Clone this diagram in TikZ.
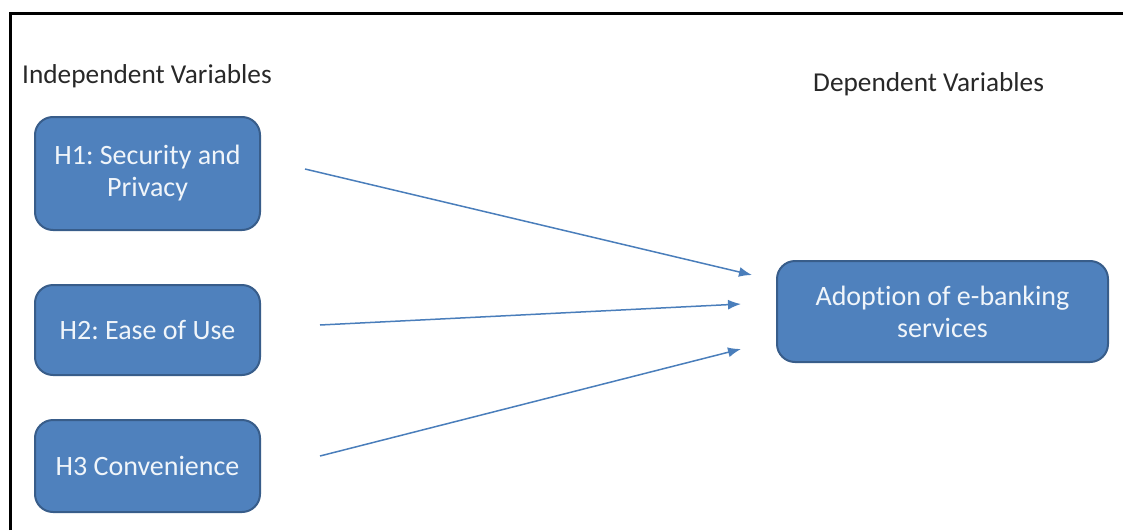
\documentclass[tikz,border=0pt]{standalone}
\usepackage{fontspec}
\setmainfont[RawFeature=-liga]{Carlito}
\usepackage{tikz}
\usetikzlibrary{positioning}
\usetikzlibrary{calc,arrows.meta}

\definecolor{boxblue}{RGB}{79,129,189}
\definecolor{boxedge}{RGB}{56,93,138}
\definecolor{arrowblue}{RGB}{74,126,187}
\definecolor{boxtext}{RGB}{240,245,250}
\definecolor{labeltext}{RGB}{40,40,40}

\frenchspacing
\begin{document}
\begin{tikzpicture}
	[   x=1pt,y=-1pt,
	    hbox/.style={draw=boxedge,line width=2pt,fill=boxblue,rounded corners=18pt,
	        text=boxtext,align=center,font=\fontsize{28}{32}\selectfont,
	        minimum width=#1,inner sep=0pt},
	    vlabel/.style={text=labeltext,font=\fontsize{27.3}{30}\selectfont,inner sep=0pt,anchor=base west},
	]
	\tikzset{normal arrow/.style={draw=arrowblue,line width=1.5pt,-{Latex[length=13pt,width=10pt]}}}
	\useasboundingbox (0,0) rectangle (1123,530);
	\draw[line width=3pt,black] (10,530) -- (10,13) -- (1123,13);
	
	\node[vlabel] (indep) at (22,83) {Independent Variables};
	\node[vlabel] (dep) at (813,91) {Dependent Variables};
	
	\node[hbox=225pt,minimum height=113pt] (h-1) at (147.5,173.5) {H1: Security and\\Privacy};
	\node[hbox=225pt,minimum height=90pt] (h-2) at (147.5,330) {H2: Ease of Use};
	\node[hbox=225pt,minimum height=92pt] (h-3) at (147.5,466) {H3 Convenience};
	
	\node[hbox=331pt,minimum height=101pt] (adopt) at (942.5,311.5) {Adoption of e-banking\\services};
	
	% free ends of the arrows
	\coordinate (s-1) at (305,169);
	\coordinate (s-2) at (320,325);
	\coordinate (s-3) at (320,456);
	\coordinate (t-1) at (752,275);
	\coordinate (t-2) at (741,304);
	\coordinate (t-3) at (741,349);
	
	\foreach \x in {1,...,3}
	{
		\path[normal arrow] (s-\x) -- (t-\x);
	}

\end{tikzpicture}
\end{document}
